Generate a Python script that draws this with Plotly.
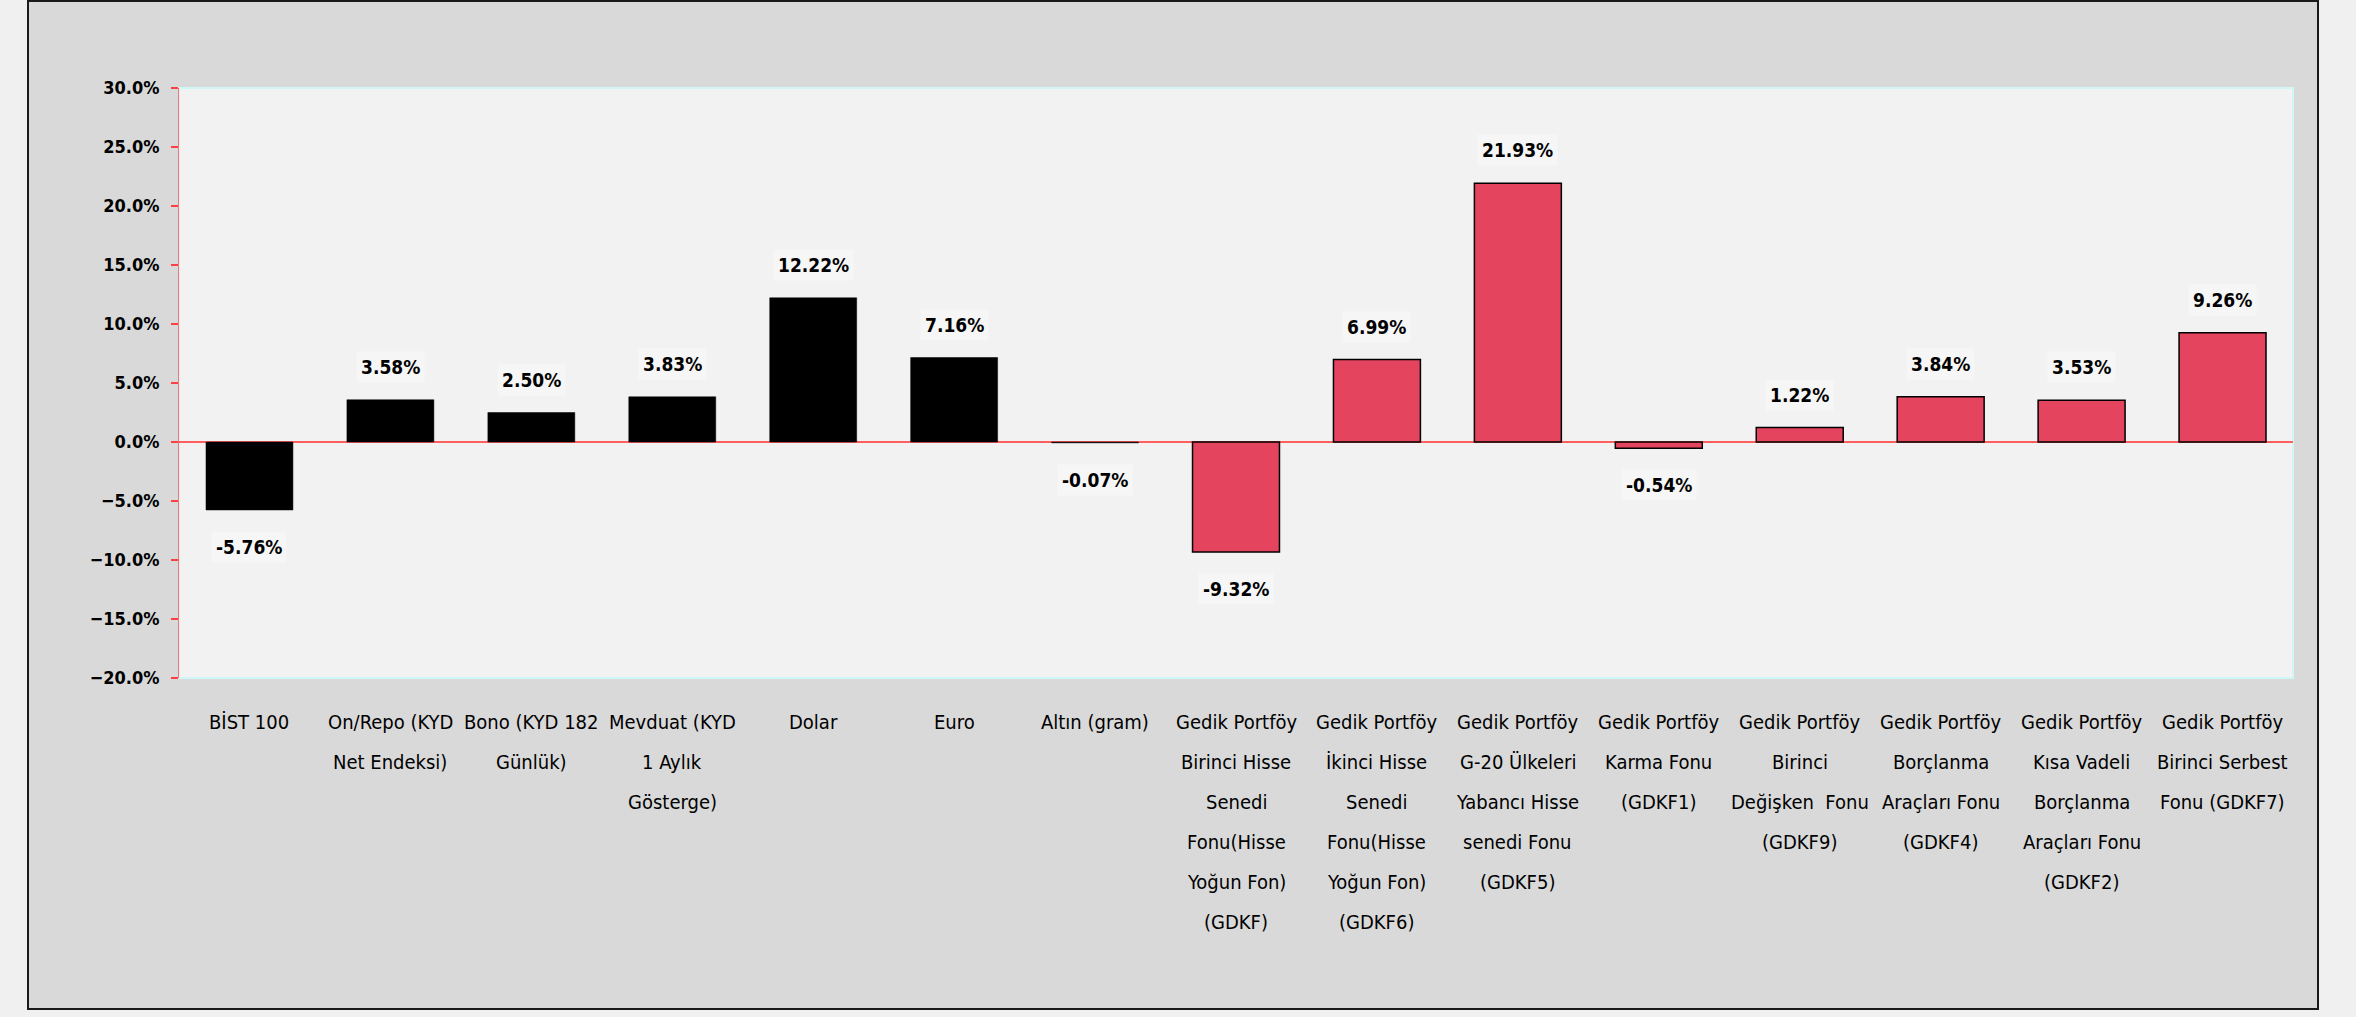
import plotly.graph_objects as go

categories = [
    "BİST 100",
    "On/Repo (KYD<br>Net Endeksi)",
    "Bono (KYD 182<br>Günlük)",
    "Mevduat (KYD<br>1 Aylık<br>Gösterge)",
    "Dolar",
    "Euro",
    "Altın (gram)",
    "Gedik Portföy<br>Birinci Hisse<br>Senedi<br>Fonu(Hisse<br>Yoğun Fon)<br>(GDKF)",
    "Gedik Portföy<br>İkinci Hisse<br>Senedi<br>Fonu(Hisse<br>Yoğun Fon)<br>(GDKF6)",
    "Gedik Portföy<br>G-20 Ülkeleri<br>Yabancı Hisse<br>senedi Fonu<br>(GDKF5)",
    "Gedik Portföy<br>Karma Fonu<br>(GDKF1)",
    "Gedik Portföy<br>Birinci<br>Değişken  Fonu<br>(GDKF9)",
    "Gedik Portföy<br>Borçlanma<br>Araçları Fonu<br>(GDKF4)",
    "Gedik Portföy<br>Kısa Vadeli<br>Borçlanma<br>Araçları Fonu<br>(GDKF2)",
    "Gedik Portföy<br>Birinci Serbest<br>Fonu (GDKF7)",
]
returns_pct = [-5.76, 3.58, 2.50, 3.83, 12.22, 7.16, -0.07,
               -9.32, 6.99, 21.93, -0.54, 1.22, 3.84, 3.53, 9.26]
group = ["bench"] * 7 + ["fund"] * 8

W, H = 2356, 1017
ML, MR, MT, MB = 179, 63, 88, 339
PW, PH = W - ML - MR, H - MT - MB

NARROW = "DejaVu Sans Condensed, Liberation Sans Narrow, DejaVu Sans, sans-serif"
colors = ["#000000" if g == "bench" else "#E5445F" for g in group]
line_w = [0.5 if g == "bench" else 1.5 for g in group]

keys = [c.replace("<br>", " ") for c in categories]

fig = go.Figure()
fig.add_trace(go.Bar(
    x=keys, y=returns_pct,
    marker=dict(color=colors, line=dict(color="#000000", width=line_w)),
    hoverinfo="skip",
))

def px_to_paper_x(p):
    return (p - ML) / PW

def px_to_paper_y(p):
    return (H - MB - p) / PH

shapes = [
    # grey chart box
    dict(type="rect", xref="paper", yref="paper", layer="below",
         x0=px_to_paper_x(28), x1=px_to_paper_x(2318),
         y0=px_to_paper_y(1009), y1=px_to_paper_y(1),
         fillcolor="#D9D9D9", line=dict(color="#1a1a1a", width=2)),
    # plot area
    dict(type="rect", xref="paper", yref="paper", layer="below",
         x0=0, x1=1, y0=0, y1=1,
         fillcolor="#F2F2F2", line=dict(color="#CFF7F7", width=2)),
]

annotations = []
for k, v in zip(keys, returns_pct):
    annotations.append(dict(
        x=k, y=v, xref="x", yref="y", text=f"{v:.2f}%", showarrow=False,
        yanchor="middle", yshift=33 if v >= 0 else -37,
        bgcolor="rgba(255,255,255,0.35)", borderpad=4,
        font=dict(family=NARROW, size=19, color="#000000", weight="bold"),
    ))

for k, c in zip(keys, categories):
    for i, line in enumerate(c.split("<br>")):
        annotations.append(dict(
            x=k, y=0, xref="x", yref="paper", text=line, showarrow=False,
            yanchor="middle", yshift=-44 - 40 * i,
            font=dict(family=NARROW, size=20, color="#000000"),
        ))

fig.update_layout(
    width=W, height=H,
    margin=dict(l=ML, r=MR, t=MT, b=MB, pad=0),
    paper_bgcolor="#F0F0F0",
    plot_bgcolor="rgba(0,0,0,0)",
    showlegend=False,
    bargap=0.383,
    shapes=shapes,
    annotations=annotations,
    xaxis=dict(showticklabels=False, showgrid=False, zeroline=False,
               showline=False, ticks="", fixedrange=True),
    yaxis=dict(range=[-20, 30], dtick=5, tick0=0, tickformat=".1f",
               ticksuffix="%", showgrid=False,
               zeroline=True, zerolinecolor="#FF5F5F", zerolinewidth=2,
               showline=True, linecolor="#FF7070", linewidth=1,
               ticks="outside", ticklen=7, tickcolor="#FF4040", tickwidth=1.5,
               ticklabelstandoff=8,
               tickfont=dict(family=NARROW, size=18, color="#000000", weight="bold")),
)

fig.write_html(
    "out.html",
    config={"displayModeBar": False},
    post_script="document.body.style.margin='0';document.body.style.background='#F0F0F0';",
)
